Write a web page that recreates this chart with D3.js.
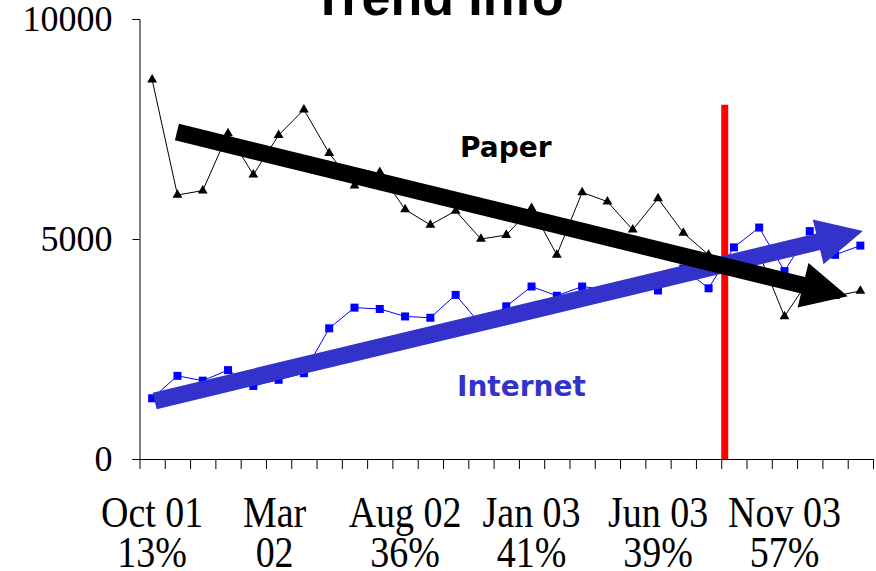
<!DOCTYPE html>
<html><head><meta charset="utf-8">
<script src="https://cdn.jsdelivr.net/npm/d3@7"></script>
<style>html,body{margin:0;padding:0;background:#fff;}svg{display:block;}</style>
</head><body>
<svg id="chart" width="876" height="571"></svg>
<script>
const months = ["Oct 01","Nov 01","Dec 01","Jan 02","Feb 02","Mar 02","Apr 02","May 02","Jun 02","Jul 02","Aug 02","Sep 02","Oct 02","Nov 02","Dec 02","Jan 03","Feb 03","Mar 03","Apr 03","May 03","Jun 03","Jul 03","Aug 03","Sep 03","Oct 03","Nov 03","Dec 03","Jan 04","Feb 04"];
const paper = [8620, 6000, 6100, 7400, 6460, 7360, 7940, 6950, 6210, 6520, 5670, 5320, 5640, 5000, 5090, 5700, 4640, 6060, 5850, 5210, 5920, 5140, 4640, 4350, 4660, 3240, 4100, 3700, 3820];
const internet = [1380, 1890, 1780, 2020, 1660, 1800, 1950, 2970, 3440, 3410, 3240, 3210, 3730, 3050, 3470, 3920, 3710, 3920, 3850, 3950, 3830, 4330, 3880, 4810, 5260, 4270, 5180, 4640, 4850];
const tickLabels = [["Oct 01","13%"],["Mar","02"],["Aug 02","36%"],["Jan 03","41%"],["Jun 03","39%"],["Nov 03","57%"]];
const tickLabelIdx = [0, 5, 10, 15, 20, 25];
const yTicks = [0, 5000, 10000];
const paperTrend = [[0.98, 7430], [27.5, 3700]];
const internetTrend = [[0.1, 1320], [28.1, 5180]];
const markerIdx = 22.5; // boundary between Aug 03 and Sep 03
const markerTop = 8050;

const svg = d3.select("#chart");
const x = d3.scaleLinear().domain([-0.5, months.length - 0.5]).range([139.5, 873]);
const y = d3.scaleLinear().domain([0, 10000]).range([459, 19]);

// title
svg.append("text").attr("x", 438).attr("y", 15).attr("text-anchor", "middle")
  .attr("font-family", "Liberation Sans, Arial, sans-serif").attr("font-weight", "bold")
  .attr("font-size", 52).text("Trend Info");

// y axis
const yAxis = svg.append("g").attr("transform", `translate(${x.range()[0]},0)`)
  .call(d3.axisLeft(y).tickValues(yTicks).tickSize(7).tickPadding(20).tickFormat(d3.format("d")));
yAxis.selectAll("text").attr("font-family", "Liberation Serif, Times New Roman, serif").attr("font-size", 36).attr("fill", "#000");
yAxis.selectAll("line,path").attr("stroke", "#000");

// x axis
const xAxis = svg.append("g").attr("transform", `translate(0,${y(0)})`)
  .call(d3.axisBottom(x).tickValues(d3.range(months.length + 1).map(i => i - 0.5)).tickSize(10).tickSizeOuter(0).tickFormat(""));
xAxis.selectAll("line,path").attr("stroke", "#000");

const labG = svg.append("g").attr("font-family", "Liberation Serif, Times New Roman, serif").attr("font-size", 38).attr("text-anchor", "middle");
tickLabels.forEach((lines, k) => {
  const cx = x(tickLabelIdx[k]) - (k === 1 ? 4 : 0);
  const g = labG.append("g").attr("transform", `translate(${cx},527) scale(1,1.18)`);
  const t = g.append("text").attr("x", 0).attr("y", 0);
  lines.forEach((ln, j) => t.append("tspan").attr("x", 0).attr("dy", j === 0 ? 0 : 40 / 1.18).text(ln));
});

// series lines
const line = d3.line().x((d, i) => x(i)).y(d => y(d));
svg.append("path").datum(paper).attr("d", line).attr("fill", "none").attr("stroke", "#000").attr("stroke-width", 1);
svg.append("path").datum(internet).attr("d", line).attr("fill", "none").attr("stroke", "#0000ff").attr("stroke-width", 1);

const tri = d3.symbol().type(d3.symbolTriangle).size(42);
svg.append("g").selectAll("path").data(paper).join("path")
  .attr("d", tri).attr("transform", (d, i) => `translate(${x(i)},${y(d)})`).attr("fill", "#000");
svg.append("g").selectAll("rect").data(internet).join("rect")
  .attr("x", (d, i) => x(i) - 4).attr("y", d => y(d) - 4).attr("width", 8).attr("height", 8).attr("fill", "#0000ff");

// red marker
svg.append("line").attr("x1", x(markerIdx) + 3.5).attr("x2", x(markerIdx) + 3.5)
  .attr("y1", y(markerTop)).attr("y2", y(0)).attr("stroke", "#ff0000").attr("stroke-width", 7);

// arrows
function arrow(pts, color) {
  const [x0, y0] = [x(pts[0][0]), y(pts[0][1])];
  const [x1, y1] = [x(pts[1][0]), y(pts[1][1])];
  const dx = x1 - x0, dy = y1 - y0, L = Math.hypot(dx, dy);
  const ux = dx / L, uy = dy / L, nx = -uy, ny = ux;
  const sw = 8.5, hw = 23, hl = 46;
  const bx = x1 - ux * hl, by = y1 - uy * hl;
  const p = [
    [x0 + nx * sw, y0 + ny * sw], [bx + nx * sw, by + ny * sw], [bx + nx * hw, by + ny * hw],
    [x1, y1],
    [bx - nx * hw, by - ny * hw], [bx - nx * sw, by - ny * sw], [x0 - nx * sw, y0 - ny * sw]
  ];
  svg.append("path").attr("d", "M" + p.map(q => q.join(",")).join("L") + "Z").attr("fill", color);
}
arrow(internetTrend, "#3333cc");
arrow(paperTrend, "#000");

// labels
svg.append("text").attr("x", 460).attr("y", 157).attr("font-family", "DejaVu Sans, sans-serif").attr("font-weight", "bold").attr("font-size", 28).attr("fill", "#000").text("Paper");
svg.append("text").attr("x", 457).attr("y", 396).attr("font-family", "DejaVu Sans, sans-serif").attr("font-weight", "bold").attr("font-size", 28).attr("fill", "#3333cc").text("Internet");
</script>
</body></html>
